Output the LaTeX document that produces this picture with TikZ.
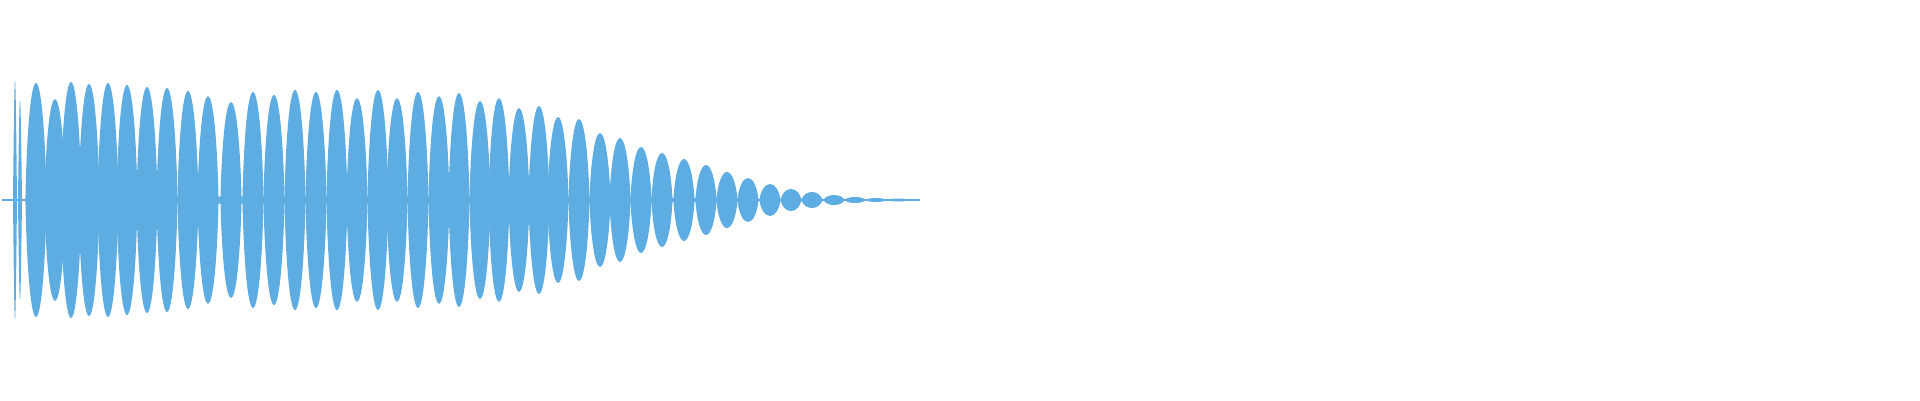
\documentclass[tikz,border=0pt]{standalone}
\definecolor{wave}{RGB}{93,173,226}
\begin{document}
\begin{tikzpicture}[x=1pt,y=-1pt]
\useasboundingbox (0,0) rectangle (1920,400);
\fill[wave] (2,198.8) rectangle (920,201.2);
\fill[wave] (28,196.5) -- (600,196.5) -- (760,199) -- (760,201) -- (600,203.5) -- (28,203.5) -- cycle;
\fill[wave] (13,200) sin (15,80) cos (17,200) sin (15,320) cos (13,200);
\fill[wave] (18,200) sin (20,100) cos (22,200) sin (20,300) cos (18,200);
\foreach \c/\a in {36/117,55/101,71/118,89/116,108/117,127/115,147/113,167/112,188/109,208/104,231/98,253/108,274/105,295/110,316/108,337/110,357/102,378/110,397/102,418/108,439/104,459/107,480/99,499/102,519/92,539/94,558/83,579/81,600/67,620/62,641/53,662/47,684/41,706/35,727/28,748/22,770/16,791/11,812/8,834/5,855/3,876/2,898/1.5}
  \fill[wave] ({\c-10.6},200) .. controls ({\c-9.2},{200-0.6*\a}) and ({\c-5},{200-\a}) .. (\c,{200-\a})
     .. controls ({\c+5},{200-\a}) and ({\c+9.2},{200-0.6*\a}) .. ({\c+10.6},200)
     .. controls ({\c+9.2},{200+0.6*\a}) and ({\c+5},{200+\a}) .. (\c,{200+\a})
     .. controls ({\c-5},{200+\a}) and ({\c-9.2},{200+0.6*\a}) .. ({\c-10.6},200) -- cycle;
\end{tikzpicture}
\end{document}
